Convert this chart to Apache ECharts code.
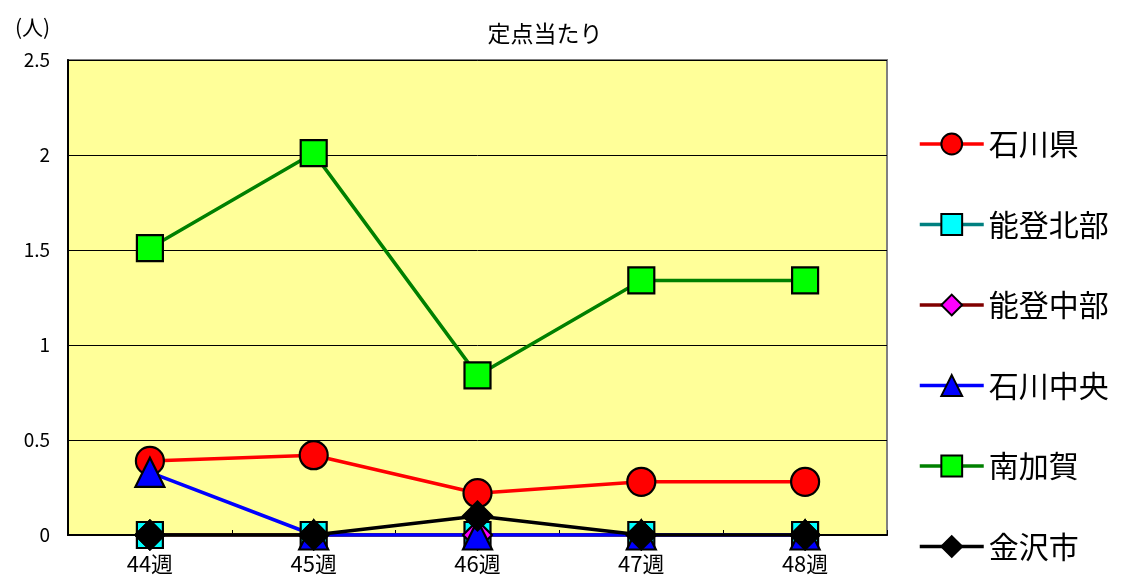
<!DOCTYPE html>
<html>
<head>
<meta charset="utf-8">
<script src="https://cdn.jsdelivr.net/npm/echarts@6/dist/echarts.min.js"></script>
<style>html,body{margin:0;padding:0;background:#fff}#c{width:1122px;height:579px}</style>
</head>
<body>
<div id="c"></div>
<script>
const categories = ['44週', '45週', '46週', '47週', '48週'];
const yTicks = { min: 0, max: 2.5, interval: 0.5 };
const ishikawaKen = [0.39, 0.42, 0.22, 0.28, 0.28];
const notoHokubu = [0, 0, 0, 0, 0];
const notoChubu = [0, 0, 0, 0, 0];
const ishikawaChuo = [0.33, 0, 0, 0, 0];
const minamiKaga = [1.51, 2.01, 0.84, 1.34, 1.34];
const kanazawa = [0, 0, 0.1, 0, 0];

const FONT = '"Noto Sans CJK JP", "Noto Sans", sans-serif';

function mk(name, data, lineColor, fill, symbol, size) {
  return {
    name: name, type: 'line', data: data,
    symbol: symbol, symbolSize: size, showAllSymbol: true,
    lineStyle: { color: lineColor, width: 3.5 },
    itemStyle: { color: fill, borderColor: '#000', borderWidth: 2.2 },
    emphasis: { disabled: true },
    animation: false
  };
}

const chart = echarts.init(document.getElementById('c'), null, { renderer: 'canvas' });
chart.setOption({
  animation: false,
  textStyle: { fontFamily: FONT },
  title: [
    { text: '定点当たり', left: 540, top: 17, textAlign: 'center',
      textStyle: { fontSize: 23, fontWeight: 'normal', color: '#000', fontFamily: FONT } },
    { text: '(人)', left: 10, top: 12,
      textStyle: { fontSize: 21, fontWeight: 'normal', color: '#000', fontFamily: FONT } }
  ],
  legend: {
    orient: 'vertical', left: 918, top: 129, padding: 0,
    itemWidth: 64, itemHeight: 26, itemGap: 50.5,
    lineStyle: { width: 3.5 },
    textStyle: { fontSize: 30, color: '#000', lineHeight: 30, fontFamily: FONT },
    data: ['石川県', '能登北部', '能登中部', '石川中央', '南加賀', '金沢市']
  },
  grid: {
    left: 68, right: 235, top: 60, bottom: 44,
    show: true, backgroundColor: '#FFFF99', borderColor: '#808080', borderWidth: 2
  },
  xAxis: {
    type: 'category', data: categories, boundaryGap: true,
    axisLine: { lineStyle: { color: '#000', width: 2 } },
    axisTick: { show: true, inside: true, length: 5, lineStyle: { color: '#000' } },
    axisLabel: { color: '#000', fontSize: 22, margin: 18, fontFamily: FONT }
  },
  yAxis: {
    type: 'value', min: yTicks.min, max: yTicks.max, interval: yTicks.interval,
    axisLine: { show: true, lineStyle: { color: '#000', width: 2 } },
    axisTick: { show: true, inside: true, length: 5, lineStyle: { color: '#000' } },
    splitLine: { show: true, lineStyle: { color: '#000', width: 1 } },
    axisLabel: { color: '#000', fontSize: 19, margin: 18, fontFamily: FONT }
  },
  series: [
    mk('石川県', ishikawaKen, '#FF0000', '#FF0000', 'circle', 28),
    mk('能登北部', notoHokubu, '#008080', '#00FFFF', 'rect', 26),
    mk('能登中部', notoChubu, '#800000', '#FF00FF', 'diamond', 29),
    mk('石川中央', ishikawaChuo, '#0000FF', '#0000FF', 'triangle', 29),
    mk('南加賀', minamiKaga, '#008000', '#00FF00', 'rect', 26),
    mk('金沢市', kanazawa, '#000000', '#000000', 'diamond', 29)
  ]
});
</script>
</body>
</html>
